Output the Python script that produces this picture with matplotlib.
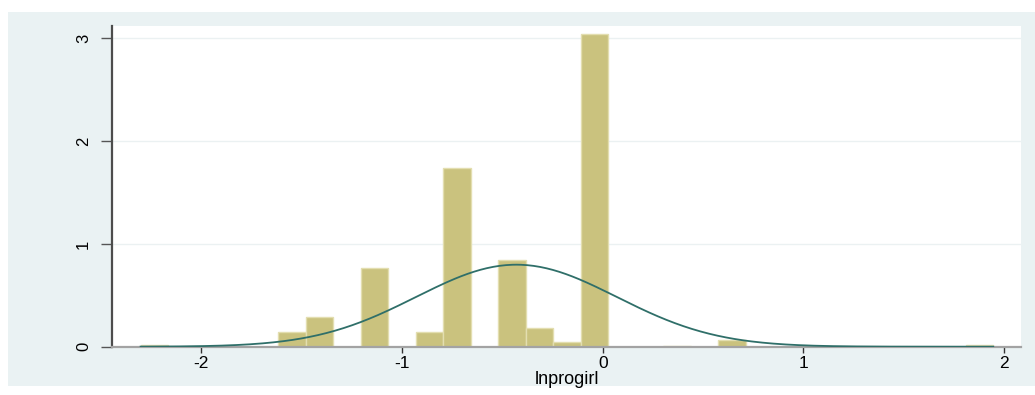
import numpy as np
import matplotlib.pyplot as plt
from matplotlib.patches import Rectangle

plt.rcParams["font.family"] = ["Liberation Sans", "DejaVu Sans"]
plt.rcParams["axes.unicode_minus"] = False

# histogram of lnprogirl (density scale), 31 bins from ln(0.1) to ln(7)
bin_lo = -2.3026
bin_hi = 1.9459
n_bins = 31
density = [0.012, 0, 0, 0, 0, 0.146, 0.292, 0, 0.763, 0, 0.146, 1.741, 0,
           0.843, 0.179, 0.049, 3.042, 0, 0, 0.008, 0, 0.065, 0, 0, 0, 0,
           0, 0, 0, 0, 0.012]

# normal overlay parameters
mu = -0.43
sigma = 0.50

xticks = [-2, -1, 0, 1, 2]
yticks = [0, 1, 2, 3]

edges = np.linspace(bin_lo, bin_hi, n_bins + 1)
width = edges[1] - edges[0]

fig = plt.figure(figsize=(10.35, 3.95), dpi=100)
fig.patch.set_facecolor("white")
# light graph region behind the plot
fig.patches.append(Rectangle((8 / 1035, 1 - 386 / 395), 1 - 8 / 1035, (386 - 12) / 395,
                             transform=fig.transFigure, facecolor="#eaf2f3",
                             edgecolor="none", zorder=-10))

ax = fig.add_axes([112 / 1035, 1 - 346.7 / 395, (1021 - 112) / 1035, (346.7 - 26) / 395])
ax.set_zorder(1)
ax.set_facecolor("white")

ax.bar(edges[:-1], density, width=width, align="edge", color="#cac27e",
       edgecolor="#e3deb0", linewidth=1, zorder=2)

xs = np.linspace(bin_lo, bin_hi, 400)
ax.plot(xs, np.exp(-0.5 * ((xs - mu) / sigma) ** 2) / (sigma * np.sqrt(2 * np.pi)),
        color="#2f6f69", linewidth=1.3, zorder=3)

ax.set_xlim(-2.445, 2.084)
ax.set_ylim(0, 3.12)
ax.set_xticks(xticks)
ax.set_yticks(yticks)

ax.grid(axis="y", color="#ebf1f2", linewidth=1, zorder=1)
ax.set_axisbelow(True)

for s in ["top", "right"]:
    ax.spines[s].set_visible(False)
ax.spines["left"].set_color("#4d4d4d")
ax.spines["left"].set_linewidth(1.6)
ax.spines["bottom"].set_color("#a3a3a3")
ax.spines["bottom"].set_linewidth(1.6)

ax.tick_params(axis="y", length=8, width=1, color="#555555", pad=7,
               labelsize=12, labelrotation=90)
ax.tick_params(axis="x", length=4, width=1, color="#333333", pad=3, labelsize=12.5)
for lab in ax.get_yticklabels():
    lab.set_va("center")

ax.set_xlabel("lnprogirl", fontsize=13, labelpad=0)

fig.savefig("out.png", dpi=100, facecolor="white")
